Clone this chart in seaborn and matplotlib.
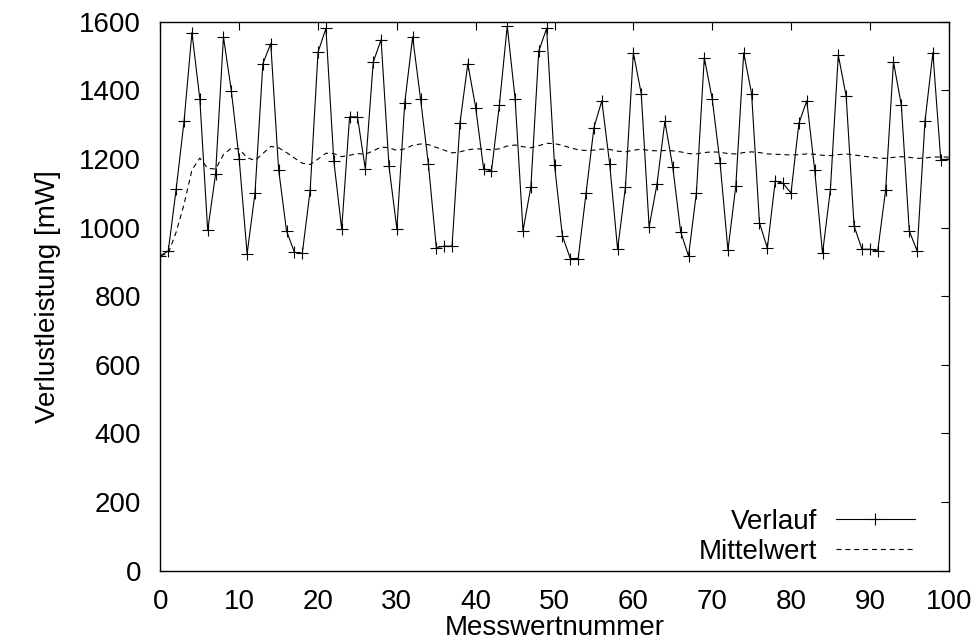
import matplotlib
matplotlib.use("Agg")
import matplotlib.pyplot as plt
import seaborn as sns
import pandas as pd
import numpy as np

# Messwertnummer 0..100
index = list(range(101))

# Verlauf
verlauf = [918, 932, 1112, 1310, 1569, 1376, 992, 1156, 1556, 1399,
           1199, 924, 1100, 1478, 1537, 1169, 991, 928, 925, 1109,
           1512, 1581, 1195, 996, 1323, 1323, 1171, 1483, 1548, 1179,
           996, 1364, 1556, 1376, 1185, 942, 946, 946, 1304, 1478,
           1350, 1172, 1165, 1357, 1588, 1376, 991, 1119, 1515, 1581,
           1182, 976, 910, 910, 1100, 1292, 1370, 1185, 937, 1119,
           1510, 1391, 1002, 1127, 1310, 1177, 988, 917, 1102, 1496,
           1376, 1189, 934, 1122, 1510, 1391, 1014, 940, 1136, 1129,
           1101, 1304, 1370, 1169, 925, 1112, 1503, 1383, 1005, 937,
           937, 932, 1109, 1483, 1357, 991, 932, 1311, 1510, 1197,
           1200]

# Mittelwert (dashed line)
mittelwert = [918, 925, 987, 1068, 1168, 1203, 1173, 1171, 1213, 1232,
              1229, 1204, 1196, 1216, 1237, 1233, 1219, 1203, 1188, 1184,
              1200, 1217, 1216, 1207, 1211, 1216, 1214, 1224, 1235, 1233,
              1225, 1230, 1240, 1244, 1242, 1234, 1226, 1218, 1221, 1227,
              1230, 1229, 1227, 1230, 1238, 1241, 1236, 1233, 1239, 1246,
              1245, 1240, 1233, 1227, 1225, 1226, 1229, 1228, 1223, 1221,
              1226, 1229, 1225, 1224, 1225, 1224, 1221, 1216, 1215, 1219,
              1221, 1220, 1216, 1215, 1219, 1221, 1219, 1215, 1214, 1213,
              1212, 1213, 1215, 1214, 1211, 1210, 1213, 1215, 1212, 1209,
              1206, 1203, 1202, 1205, 1207, 1205, 1202, 1203, 1206, 1206,
              1206]

xticks = [0, 10, 20, 30, 40, 50, 60, 70, 80, 90, 100]
yticks = [0, 200, 400, 600, 800, 1000, 1200, 1400, 1600]

sns.set_theme(style="white")
plt.rcParams['font.family'] = ['Liberation Sans', 'DejaVu Sans']
plt.rcParams['text.color'] = 'black'
plt.rcParams['axes.labelcolor'] = 'black'

df = pd.DataFrame({"Messwertnummer": index, "Verlauf": verlauf, "Mittelwert": mittelwert})

fig = plt.figure(figsize=(9.78, 6.44), dpi=100)
ax = fig.add_axes([0.164, 0.114, 0.806, 0.852])

sns.lineplot(data=df, x="Messwertnummer", y="Verlauf", ax=ax, color="black",
             linewidth=0.8, marker="+", markersize=9, markeredgewidth=0.8,
             markeredgecolor="black", label="Verlauf")
sns.lineplot(data=df, x="Messwertnummer", y="Mittelwert", ax=ax, color="black",
             linewidth=0.8, linestyle=(0, (4.5, 3.5)), label="Mittelwert")

ax.set_xlim(0, 100)
ax.set_ylim(0, 1600)
ax.set_xticks(xticks)
ax.set_yticks(yticks)
ax.tick_params(axis="both", which="major", direction="in", length=6, width=0.8,
               top=True, right=True, labelsize=20, color="black", labelcolor="black")
ax.tick_params(axis="x", pad=13)
ax.tick_params(axis="y", pad=14)
for s in ax.spines.values():
    s.set_color("black")
    s.set_linewidth(1.0)
ax.grid(False)

ax.set_xlabel("Messwertnummer", fontsize=20, color="black", labelpad=0.5)
ax.set_ylabel("Verlustleistung [mW]", fontsize=20, color="black", labelpad=13)

handles, labels = ax.get_legend_handles_labels()
leg = ax.legend(handles, labels, loc="lower right", bbox_to_anchor=(0.971, -0.01),
                frameon=False, markerfirst=False,
                fontsize=20, handlelength=2.85, handletextpad=0.65, labelspacing=0.16,
                borderaxespad=0.0, numpoints=1)
for t in leg.get_texts():
    t.set_color("black")

fig.savefig("out.png", dpi=100)
